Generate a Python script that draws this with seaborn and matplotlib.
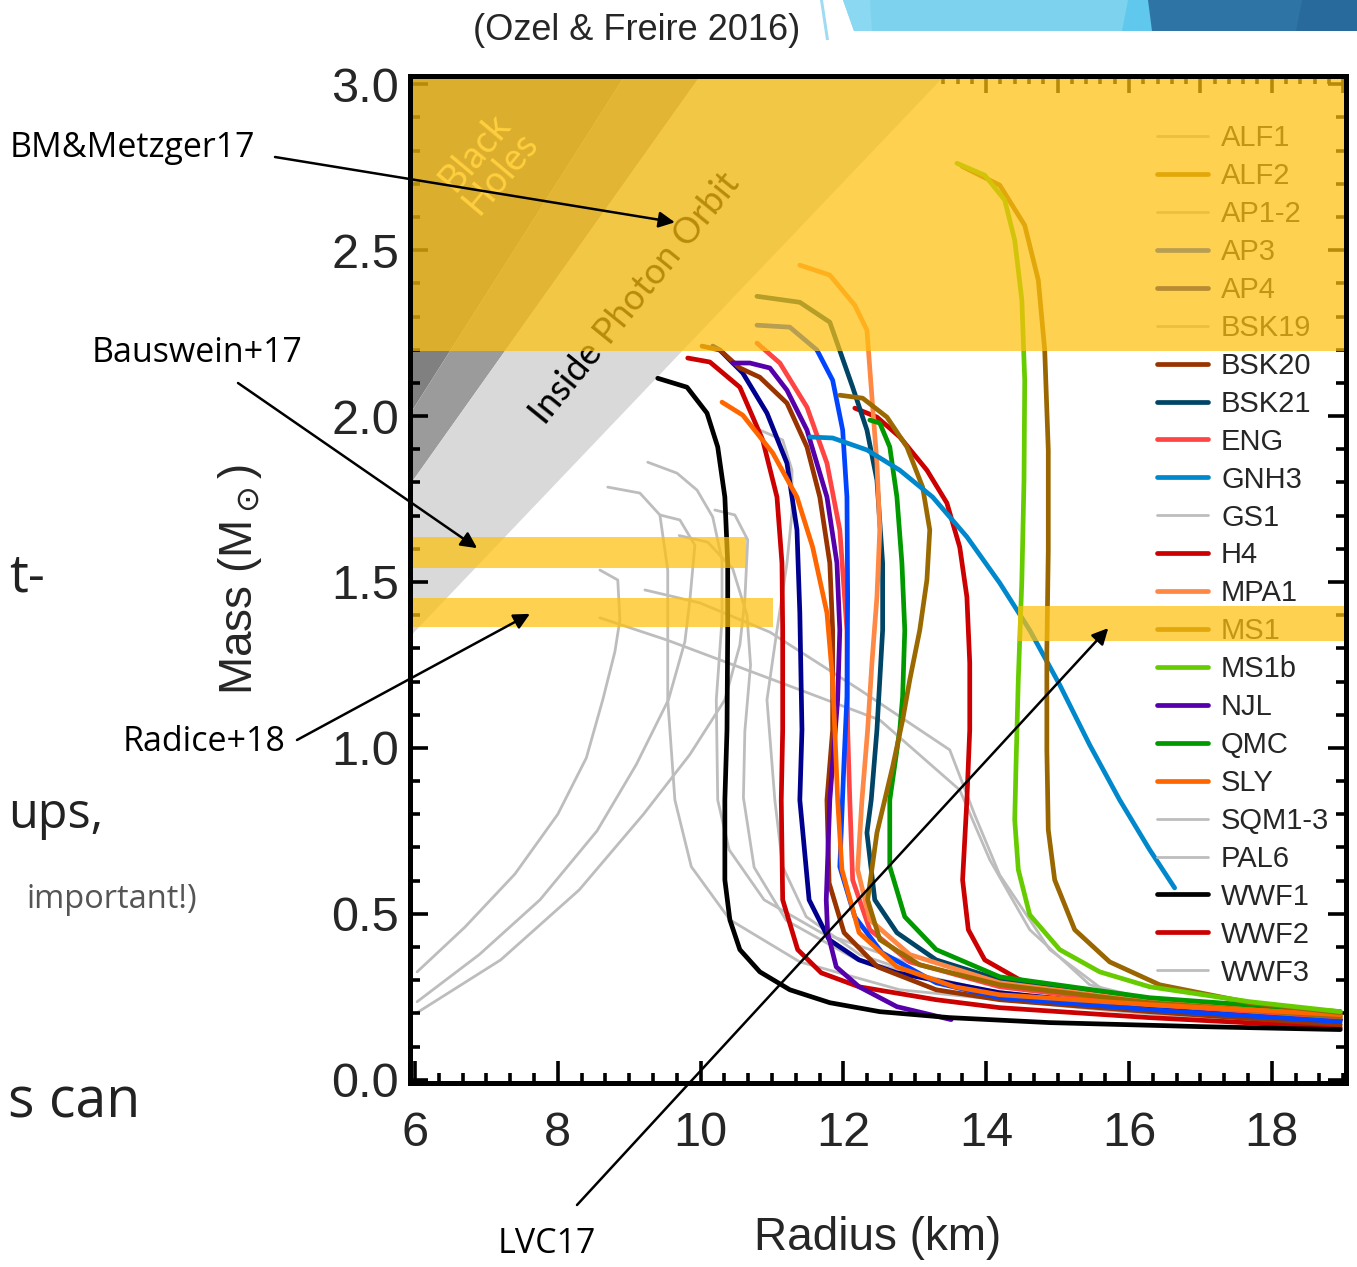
import matplotlib
matplotlib.use("Agg")
import matplotlib.pyplot as plt
import seaborn as sns
from matplotlib import font_manager
from matplotlib.patches import Polygon
from matplotlib.ticker import MultipleLocator

# --- data (R in km, M in solar masses) ---
wwf1_r = [9.40, 9.81, 10.09, 10.24, 10.34, 10.38, 10.38, 10.37, 10.34, 10.34, 10.41, 10.55, 10.83, 11.25, 11.81, 12.51, 13.49, 14.89, 16.99, 18.96]
wwf1_m = [2.114, 2.087, 2.009, 1.907, 1.756, 1.557, 1.355, 1.054, 0.843, 0.602, 0.482, 0.392, 0.325, 0.271, 0.232, 0.205, 0.187, 0.172, 0.160, 0.151]
wwf2_r = [9.82, 10.13, 10.55, 10.87, 11.07, 11.14, 11.15, 11.15, 11.13, 11.15, 11.36, 11.69, 12.22, 13.30, 14.19, 16.29, 18.96]
wwf2_m = [2.175, 2.163, 2.087, 1.928, 1.756, 1.557, 1.355, 1.054, 0.843, 0.542, 0.392, 0.322, 0.280, 0.241, 0.217, 0.187, 0.157]
sly_r = [10.30, 10.59, 11.01, 11.35, 11.57, 11.77, 11.85, 11.88, 11.92, 11.98, 12.22, 12.75, 13.56, 14.19, 16.29, 18.96]
sly_m = [2.042, 2.003, 1.889, 1.756, 1.605, 1.407, 1.205, 1.054, 0.843, 0.633, 0.443, 0.340, 0.280, 0.256, 0.226, 0.196]
navy_r = [10.17, 10.27, 10.59, 10.93, 11.21, 11.35, 11.39, 11.42, 11.39, 11.52, 11.80, 12.22, 12.75, 14.19, 16.29, 18.96]
navy_m = [2.211, 2.199, 2.130, 2.009, 1.858, 1.657, 1.407, 1.054, 0.843, 0.542, 0.422, 0.361, 0.322, 0.262, 0.217, 0.181]
bsk20_r = [10.02, 10.27, 10.55, 10.83, 11.21, 11.49, 11.67, 11.81, 11.85, 11.85, 11.77, 11.80, 12.01, 12.48, 13.30, 14.19, 16.29, 18.96]
bsk20_m = [2.211, 2.199, 2.145, 2.117, 2.039, 1.907, 1.756, 1.557, 1.355, 1.054, 0.843, 0.593, 0.443, 0.340, 0.271, 0.241, 0.205, 0.166]
njl_r = [10.45, 10.69, 10.97, 11.21, 11.49, 11.77, 11.91, 11.95, 11.92, 11.81, 11.76, 11.78, 11.90, 12.22, 12.75, 13.51]
njl_m = [2.160, 2.160, 2.145, 2.078, 1.958, 1.756, 1.557, 1.355, 1.145, 0.843, 0.542, 0.443, 0.340, 0.280, 0.220, 0.181]
eng_r = [10.79, 11.11, 11.49, 11.77, 11.95, 12.05, 12.06, 12.09, 12.13, 12.37, 12.93, 14.19, 16.29, 18.96]
eng_m = [2.220, 2.160, 2.027, 1.858, 1.657, 1.355, 1.054, 0.843, 0.602, 0.452, 0.355, 0.280, 0.226, 0.187]
blue_r = [10.79, 11.25, 11.63, 11.85, 11.99, 12.05, 12.06, 12.05, 12.01, 11.95, 12.16, 12.54, 13.30, 14.19, 16.29, 18.96]
blue_m = [2.274, 2.268, 2.199, 2.108, 1.958, 1.756, 1.455, 1.154, 0.964, 0.642, 0.491, 0.383, 0.292, 0.247, 0.211, 0.175]
bsk21_r = [10.79, 11.39, 11.81, 12.13, 12.33, 12.47, 12.55, 12.55, 12.47, 12.39, 12.33, 12.44, 12.75, 13.30, 14.19, 16.29, 18.96]
bsk21_m = [2.361, 2.343, 2.283, 2.087, 1.958, 1.807, 1.557, 1.355, 1.054, 0.843, 0.744, 0.542, 0.443, 0.361, 0.301, 0.241, 0.196]
mpa1_r = [11.39, 11.81, 12.16, 12.33, 12.40, 12.47, 12.51, 12.47, 12.40, 12.34, 12.26, 12.20, 12.37, 12.93, 14.19, 16.29, 18.96]
mpa1_m = [2.455, 2.425, 2.334, 2.259, 2.057, 1.858, 1.657, 1.455, 1.256, 1.054, 0.843, 0.633, 0.482, 0.377, 0.292, 0.235, 0.193]
qmc_r = [12.37, 12.51, 12.65, 12.75, 12.82, 12.86, 12.83, 12.79, 12.65, 12.65, 12.86, 13.30, 14.19, 16.29, 18.96]
qmc_m = [1.988, 1.979, 1.907, 1.756, 1.557, 1.355, 1.154, 1.054, 0.843, 0.642, 0.491, 0.392, 0.310, 0.247, 0.205]
alf2_r = [11.95, 12.27, 12.61, 12.89, 13.11, 13.21, 13.17, 13.07, 12.93, 12.83, 12.69, 12.47, 12.34, 12.51, 13.07, 14.19, 16.29, 18.96]
alf2_m = [2.063, 2.054, 1.997, 1.907, 1.786, 1.657, 1.506, 1.355, 1.205, 1.084, 0.943, 0.744, 0.542, 0.422, 0.346, 0.286, 0.232, 0.190]
h4_r = [12.16, 12.47, 12.79, 13.17, 13.45, 13.63, 13.73, 13.77, 13.77, 13.73, 13.67, 13.75, 13.98, 14.47, 15.59, 16.99, 18.96]
h4_m = [2.024, 1.997, 1.937, 1.837, 1.738, 1.605, 1.455, 1.256, 1.054, 0.843, 0.602, 0.452, 0.361, 0.301, 0.247, 0.217, 0.181]
gnh3_r = [11.53, 11.85, 12.33, 12.79, 13.25, 13.73, 14.19, 14.61, 15.03, 15.45, 15.87, 16.29, 16.64]
gnh3_m = [1.937, 1.934, 1.898, 1.837, 1.756, 1.636, 1.497, 1.355, 1.190, 1.009, 0.843, 0.693, 0.578]
ms1b_r = [13.59, 13.98, 14.26, 14.40, 14.50, 14.54, 14.53, 14.50, 14.45, 14.42, 14.40, 14.45, 14.61, 15.03, 15.59, 16.29, 17.69, 18.96]
ms1b_m = [2.762, 2.726, 2.651, 2.530, 2.349, 2.108, 1.807, 1.506, 1.205, 0.964, 0.783, 0.633, 0.497, 0.392, 0.325, 0.280, 0.235, 0.205]
ms1_r = [13.66, 14.19, 14.54, 14.73, 14.82, 14.87, 14.87, 14.85, 14.85, 14.87, 14.96, 15.24, 15.73, 16.43, 17.69, 18.96]
ms1_m = [2.753, 2.696, 2.575, 2.410, 2.199, 1.898, 1.596, 1.295, 0.994, 0.753, 0.602, 0.452, 0.355, 0.286, 0.232, 0.202]

sqm1_r = [6.03, 6.70, 7.40, 8.00, 8.40, 8.63, 8.80, 8.87, 8.84, 8.59]
sqm1_m = [0.325, 0.460, 0.620, 0.800, 0.970, 1.145, 1.290, 1.386, 1.506, 1.536]
sqm2_r = [6.03, 6.90, 7.75, 8.55, 9.10, 9.55, 9.78, 9.85, 9.92, 9.71, 9.43]
sqm2_m = [0.235, 0.377, 0.542, 0.750, 0.950, 1.145, 1.320, 1.446, 1.611, 1.687, 1.702]
sqm3_r = [6.03, 7.20, 8.30, 9.20, 9.85, 10.34, 10.55, 10.62, 10.66, 10.48, 10.20]
sqm3_m = [0.202, 0.361, 0.572, 0.800, 0.980, 1.145, 1.310, 1.446, 1.627, 1.702, 1.717]
wwf3_r = [10.83, 11.15, 11.28, 11.28, 11.21, 11.07, 10.93, 11.04, 11.15, 11.48, 12.23, 13.49, 15.59, 18.96]
wwf3_m = [1.958, 1.928, 1.837, 1.708, 1.557, 1.355, 1.145, 0.843, 0.642, 0.491, 0.377, 0.286, 0.226, 0.175]
alf1_r = [9.26, 9.67, 9.95, 10.17, 10.30, 10.30, 10.22, 10.24, 10.40, 10.89, 11.69, 12.79, 14.19, 16.29, 18.96]
alf1_m = [1.861, 1.828, 1.777, 1.696, 1.566, 1.386, 1.145, 0.843, 0.693, 0.542, 0.443, 0.361, 0.286, 0.226, 0.166]
ap12_r = [8.70, 9.15, 9.43, 9.54, 9.54, 9.54, 9.64, 9.87, 10.41, 11.39, 12.79, 15.59, 18.96]
ap12_m = [1.786, 1.768, 1.702, 1.536, 1.325, 1.145, 0.843, 0.642, 0.482, 0.355, 0.271, 0.211, 0.151]
pal6_r = [9.22, 9.99, 10.97, 12.23, 13.49, 13.84, 14.19, 14.89, 15.73, 16.99, 18.96]
pal6_m = [1.476, 1.437, 1.349, 1.175, 0.994, 0.798, 0.617, 0.392, 0.256, 0.196, 0.151]
gs1_r = [8.59, 9.53, 11.39, 12.51, 13.63, 14.05, 14.61, 15.45, 16.99, 18.96]
gs1_m = [1.392, 1.325, 1.175, 1.084, 0.873, 0.663, 0.452, 0.286, 0.205, 0.157]
bsk19_r = [9.70, 10.10, 10.45, 10.65, 10.70, 10.62, 10.60, 10.75, 11.20, 12.20, 14.00, 16.50, 18.96]
bsk19_m = [1.640, 1.620, 1.540, 1.400, 1.250, 1.050, 0.850, 0.640, 0.480, 0.360, 0.270, 0.205, 0.160]

# constraint bands: name, M low, M high, R low, R high
band_names = ["BM&Metzger17", "Bauswein+17", "Radice+18", "LVC17"]
band_mlo = [2.195, 1.542, 1.364, 1.322]
band_mhi = [3.10, 1.636, 1.452, 1.428]
band_rlo = [5.0, 5.0, 5.0, 14.45]
band_rhi = [20.0, 10.63, 11.01, 20.0]
band_target_r = [9.64, 6.87, 7.61, 15.71]
band_target_m = [2.584, 1.602, 1.404, 1.361]

# excluded regions: R = k * M
region_k = [2.95, 3.30, 4.43]
region_mass = [0.0, 3.2]

legend_names = ["ALF1", "ALF2", "AP1-2", "AP3", "AP4", "BSK19", "BSK20", "BSK21", "ENG",
                "GNH3", "GS1", "H4", "MPA1", "MS1", "MS1b", "NJL", "QMC", "SLY",
                "SQM1-3", "PAL6", "WWF1", "WWF2", "WWF3"]

# --- style ---
sns.set_theme(style="white")
available = {f.name for f in font_manager.fontManager.ttflist}
NARROW = "Liberation Sans Narrow" if "Liberation Sans Narrow" in available else "Liberation Sans"
plt.rcParams["font.family"] = [NARROW, "DejaVu Sans"]
plt.rcParams["lines.solid_joinstyle"] = "round"

W, H = 1357, 1267
fig = plt.figure(figsize=(W / 100, H / 100), dpi=100)
ax = fig.add_axes([410 / W, 1 - 1083 / H, (1346 - 410) / W, (1083 - 76) / H])


def fpx(x, y):
    return x / W, 1 - y / H


GRAY = "#bdbdbd"
curves = [
    (sqm1_r, sqm1_m, GRAY, "SQM1-3", 2.0), (sqm2_r, sqm2_m, GRAY, None, 2.0),
    (sqm3_r, sqm3_m, GRAY, None, 2.0), (wwf3_r, wwf3_m, GRAY, "WWF3", 2.0),
    (alf1_r, alf1_m, GRAY, "ALF1", 2.0), (ap12_r, ap12_m, GRAY, "AP1-2", 2.0),
    (pal6_r, pal6_m, GRAY, "PAL6", 2.0), (gs1_r, gs1_m, GRAY, "GS1", 2.0),
    (bsk19_r, bsk19_m, GRAY, "BSK19", 2.0),
    (wwf2_r, wwf2_m, "#cc0000", "WWF2", 3.4), (h4_r, h4_m, "#cc0000", "H4", 3.4),
    (navy_r, navy_m, "#00008f", "AP4", 3.4), (bsk20_r, bsk20_m, "#993300", "BSK20", 3.4),
    (njl_r, njl_m, "#5500aa", "NJL", 3.4), (eng_r, eng_m, "#ff4444", "ENG", 3.4),
    (blue_r, blue_m, "#0044ff", "AP3", 3.4), (bsk21_r, bsk21_m, "#004466", "BSK21", 3.4),
    (mpa1_r, mpa1_m, "#ff8844", "MPA1", 3.4), (qmc_r, qmc_m, "#009900", "QMC", 3.4),
    (alf2_r, alf2_m, "#9a6a00", "ALF2", 3.4), (gnh3_r, gnh3_m, "#0088cc", "GNH3", 3.4),
    (sly_r, sly_m, "#ff6600", "SLY", 3.4), (ms1_r, ms1_m, "#996600", "MS1", 3.4),
    (ms1b_r, ms1b_m, "#66cc00", "MS1b", 3.4), (wwf1_r, wwf1_m, "black", "WWF1", 3.4),
]

# excluded regions (black holes / causality / photon orbit)
ax.fill_betweenx(region_mass, [0, 0], [region_k[0] * m for m in region_mass],
                 color="#808080", lw=0, zorder=0.8)
ax.fill_betweenx(region_mass, [region_k[0] * m for m in region_mass],
                 [region_k[1] * m for m in region_mass], color="#9b9b9b", lw=0, zorder=0.8)
ax.fill_betweenx(region_mass, [region_k[1] * m for m in region_mass],
                 [region_k[2] * m for m in region_mass], color="#d9d9d9", lw=0, zorder=0.8)

handles = {}
for r, m, col, lab, lw in curves:
    sns.lineplot(x=r, y=m, sort=False, estimator=None, color=col, lw=lw, ax=ax,
                 zorder=1.7 if lw > 2.5 else 1.5, legend=False)
    if lab:
        handles[lab] = ax.lines[-1]

ax.text(7.02, 2.765, "Black\nHoles", rotation=50, color="#fff4c0", fontsize=27,
        family="Lato", ha="center", va="center", linespacing=0.9, zorder=1.9)
ax.text(9.08, 2.355, "Inside Photon Orbit", rotation=51, color="black", fontsize=26,
        family="Lato", ha="center", va="center", zorder=1.9)

leg = ax.legend([handles[n] for n in legend_names], legend_names, loc="upper left",
                bbox_to_anchor=(0.798, 0.952), frameon=False, fontsize=21,
                handlelength=1.75, handletextpad=0.45, labelspacing=0.34, borderaxespad=0,
                borderpad=0)
leg.set_zorder(2.0)

# constraint bands over everything inside the frame
for lo, hi, rlo, rhi in zip(band_mlo, band_mhi, band_rlo, band_rhi):
    ax.fill_between([rlo, rhi], lo, hi, color="#fec10e", alpha=0.725, lw=0, zorder=2.2)

ax.set_xlim(5.93, 19.04)
ax.set_ylim(-0.01, 3.025)
ax.xaxis.set_major_locator(MultipleLocator(2))
ax.xaxis.set_minor_locator(MultipleLocator(1 / 3))
ax.yaxis.set_major_locator(MultipleLocator(0.5))
ax.yaxis.set_minor_locator(MultipleLocator(0.1))
ax.yaxis.set_major_formatter(matplotlib.ticker.FormatStrFormatter("%.1f"))
ax.tick_params(which="both", direction="in", bottom=True, left=True, top=False, right=True,
               color="black", width=2.6, labelsize=35)
ax.tick_params(which="major", length=13)
ax.tick_params(which="minor", length=7)
ax.tick_params(axis="x", which="major", length=16, pad=20)
ax.tick_params(axis="y", pad=8)
ax.set_axisbelow("line")
for s in ax.spines.values():
    s.set_linewidth(3.6)
    s.set_color("black")
    s.set_zorder(2.5)

# finer tick marks along the top edge
top = ax.secondary_xaxis("top")
top.xaxis.set_major_locator(MultipleLocator(1))
top.xaxis.set_minor_locator(MultipleLocator(0.2))
top.tick_params(which="both", direction="in", top=True, labeltop=False, color="black", width=2.6)
top.tick_params(which="major", length=12)
top.tick_params(which="minor", length=6)
top.spines["top"].set_linewidth(3.6)

ax.set_xlabel("Radius (km)", fontsize=33)
ax.set_ylabel("Mass (M$_\\odot$)", fontsize=33)
ax.xaxis.set_label_coords(0.5, -0.132)
ax.yaxis.set_label_coords(-0.156, 0.5)

# annotations pointing at the bands
ann_font = dict(family="Open Sans", fontsize=24.5, color="black")
arrow_start = [(275, 157), (238, 383), (297, 740), (577, 1205)]
for name, tr, tm, st in zip(band_names, band_target_r, band_target_m, arrow_start):
    ax.annotate("", xy=(tr, tm), xycoords="data", xytext=fpx(*st), textcoords="figure fraction",
                arrowprops=dict(arrowstyle="-|>", color="black", lw=1.8, mutation_scale=24,
                                shrinkA=0, shrinkB=0), annotation_clip=False, zorder=5)
fig.text(*fpx(10, 148), "BM&Metzger17", ha="left", va="center", **ann_font)
fig.text(*fpx(92, 353), "Bauswein+17", ha="left", va="center", **ann_font)
fig.text(*fpx(123, 742), "Radice+18", ha="left", va="center", **ann_font)
fig.text(*fpx(498, 1244), "LVC17", ha="left", va="center", **ann_font)
fig.text(*fpx(637, 30), "(Ozel & Freire 2016)", ha="center", va="center", fontsize=26)

# pieces of the slide around the figure
slide_font = dict(family="Open Sans", color="#222222")
fig.text(*fpx(45, 578), "t-", ha="right", va="center", fontsize=38, **slide_font)
fig.text(*fpx(103, 815), "ups,", ha="right", va="center", fontsize=35, **slide_font)
fig.text(*fpx(197, 900), "important!)", ha="right", va="center", fontsize=23.5,
         family="Open Sans", color="#555555")
fig.text(*fpx(140, 1103), "s can", ha="right", va="center", fontsize=40, **slide_font)

banner = [
    ([(820, 0), (823, 0), (829, 40), (826, 40)], "#9fdcf2"),
    ([(843, 0), (1132, 0), (1124, 31), (854, 31)], "#7dd3ee"),
    ([(843, 0), (870, 0), (872, 31), (854, 31)], "#8ad8f2"),
    ([(1128, 0), (1150, 0), (1154, 31), (1122, 31)], "#60c8ec"),
    ([(1148, 0), (1357, 0), (1357, 31), (1152, 31)], "#2e75a5"),
    ([(1302, 0), (1357, 0), (1357, 31), (1296, 31)], "#286a9c"),
]
for pts, col in banner:
    fig.patches.append(Polygon([fpx(x, y) for x, y in pts], closed=True, fc=col, ec="none",
                               transform=fig.transFigure))

fig.savefig("out.png", dpi=100)
